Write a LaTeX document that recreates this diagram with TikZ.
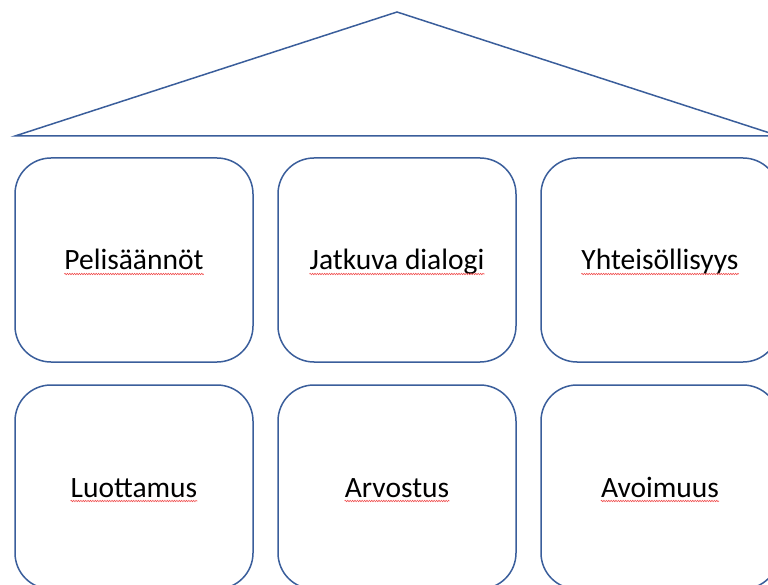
\documentclass[tikz,border=0pt]{standalone}
\usepackage{fontspec}
\setmainfont{Carlito}
\usetikzlibrary{decorations.pathmorphing}
\definecolor{edgeblue}{HTML}{3A5E9B}
\definecolor{spellred}{HTML}{F05050}
\tikzset{
  pillar/.style={draw=edgeblue, line width=1.5pt, rounded corners=36pt,
    minimum width=238pt, minimum height=204pt, inner sep=0pt},
  roofline/.style={draw=edgeblue, line width=1.5pt, line join=miter},
  label/.style={font=\fontsize{29.5}{35}\selectfont, inner sep=0pt, anchor=base, text=black},
  squiggle/.style={draw=spellred, line width=0.6pt,
    decorate, decoration={snake, amplitude=0.7pt, segment length=2.4pt}}
}
\newcommand{\wavy}[1]{\draw[squiggle] ([yshift=-4pt]#1.base west) -- ([yshift=-4pt]#1.base east);}
\begin{document}
\begin{tikzpicture}[x=1pt,y=1pt]
\useasboundingbox (0,0) rectangle (768,-585);
\clip (0,0) rectangle (768,-585);
\coordinate (rl) at (15,-136);
\coordinate (rt) at (397,-12);
\coordinate (rr) at (779,-136);
\draw[roofline] (rl) -- (rt) -- (rr) -- cycle;
\node[pillar] (b1) at (134,-260) {};
\node[pillar] (b2) at (397,-260) {};
\node[pillar] (b3) at (660,-260) {};
\node[pillar] (b4) at (134,-487) {};
\node[pillar] (b5) at (397,-487) {};
\node[pillar] (b6) at (660,-487) {};
\node[label] (t1) at (134,-270) {Pelisäännöt};
\node[label] (t2) at (397,-270) {Jatkuva dialogi};
\node[label] (t3) at (660,-270) {Yhteisöllisyys};
\node[label] (t4) at (134,-497) {Luottamus};
\node[label] (t5) at (397,-497) {Arvostus};
\node[label] (t6) at (660,-497) {Avoimuus};
\wavy{t1}
\wavy{t2}
\wavy{t3}
\wavy{t4}
\wavy{t5}
\wavy{t6}
\end{tikzpicture}
\end{document}
